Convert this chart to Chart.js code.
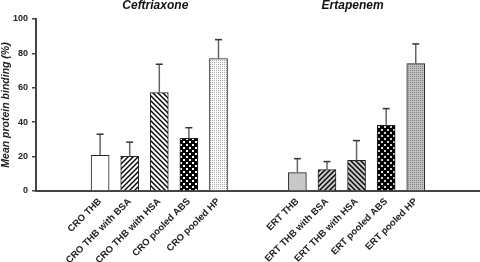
<!DOCTYPE html>
<html lang="en">
<head>
<meta charset="UTF-8">
<title>Mean protein binding</title>
<script src="https://cdn.jsdelivr.net/npm/chart.js@4"></script>
<style>
  html, body { margin: 0; padding: 0; background: #fff; }
  #wrap { width: 480px; height: 262px; position: relative; }
</style>
</head>
<body>
<div id="wrap"><canvas id="binding"></canvas></div>
<script>
// data
const groupTitles = ['Ceftriaxone', 'Ertapenem'];
const croLabels = ['CRO THB', 'CRO THB with BSA', 'CRO THB with HSA', 'CRO pooled ABS', 'CRO pooled HP'];
const ertLabels = ['ERT THB', 'ERT THB with BSA', 'ERT THB with HSA', 'ERT pooled ABS', 'ERT pooled HP'];
const croMean = [20.7, 20.1, 57.2, 30.6, 77.0];
const croSD   = [12.3, 8.3, 16.5, 6.2, 11.0];
const ertMean = [10.7, 12.4, 17.8, 38.2, 74.1];
const ertSD   = [8.1, 4.7, 11.5, 9.7, 11.4];
const yTicks  = [0, 20, 40, 60, 80, 100];

const FONT = 'Arial, "Liberation Sans", sans-serif';

// small fill patterns like the Prism bars
function tile(size, bg, paint) {
  const c = document.createElement('canvas');
  c.width = c.height = size;
  const g = c.getContext('2d');
  g.fillStyle = bg;
  g.fillRect(0, 0, size, size);
  if (paint) paint(g, size);
  return g.createPattern(c, 'repeat');
}
const hatch = (dir) => (g, s) => {
  g.strokeStyle = '#000';
  g.lineWidth = 1.4;
  g.beginPath();
  for (let o = -s; o <= s; o += s) {
    if (dir > 0) { g.moveTo(o - 1, s + 1); g.lineTo(o + s + 1, -1); }
    else { g.moveTo(o - 1, -1); g.lineTo(o + s + 1, s + 1); }
  }
  g.stroke();
};
const checker = (dot) => (g) => {
  g.fillStyle = dot;
  g.fillRect(0, 0, 2, 2);
  g.fillRect(3, 3, 2, 2);
};
const dots = (dot) => (g) => {
  g.fillStyle = dot;
  g.fillRect(0, 0, 1, 1);
  g.fillRect(2, 2, 1, 1);
  g.fillRect(0, 2, 1, 1);
  g.fillRect(2, 0, 1, 1);
};

const croFills = [
  '#ffffff',
  tile(5, '#ffffff', hatch(1)),
  tile(5, '#ffffff', hatch(-1)),
  tile(6, '#000000', checker('#ffffff')),
  tile(4, '#ffffff', dots('#a8a8a8'))
];
const ertFills = [
  '#c8c8c8',
  tile(5, '#c8c8c8', hatch(1)),
  tile(5, '#c8c8c8', hatch(-1)),
  tile(6, '#000000', checker('#d0d0d0')),
  tile(4, '#c4c4c4', dots('#7a7a7a'))
];

// lay the bars out on a fine category grid so the gap between groups can be set
const lead = 6, step = 3, gap = 8, tail = 6;
const groups = [
  { labels: croLabels, mean: croMean, sd: croSD, fills: croFills },
  { labels: ertLabels, mean: ertMean, sd: ertSD, fills: ertFills }
];
const labels = [], means = [], sds = [], fills = [], mids = [];
function pad(n) {
  for (let i = 0; i < n; i++) {
    labels.push(''); means.push(null); sds.push(null); fills.push('rgba(0,0,0,0)');
  }
}
pad(lead);
groups.forEach((g, gi) => {
  if (gi) pad(gap - 1);
  g.labels.forEach((l, j) => {
    if (j) pad(step - 1);
    if (j === 2) mids.push(labels.length);
    labels.push(l);
    means.push(g.mean[j]);
    sds.push(g.sd[j]);
    fills.push(g.fills[j]);
  });
});
pad(tail);

const errorBars = {
  id: 'errorBars',
  afterDatasetsDraw(chart) {
    const meta = chart.getDatasetMeta(0);
    const y = chart.scales.y;
    const c = chart.ctx;
    c.save();
    c.lineWidth = 1.5;
    meta.data.forEach((bar, i) => {
      if (means[i] == null) return;
      const top = y.getPixelForValue(means[i] + sds[i]);
      c.strokeStyle = '#666';
      c.beginPath();
      c.moveTo(bar.x, bar.y);
      c.lineTo(bar.x, top);
      c.stroke();
      c.strokeStyle = '#333';
      c.beginPath();
      c.moveTo(bar.x - 3.5, top);
      c.lineTo(bar.x + 3.5, top);
      c.stroke();
    });
    c.restore();
  }
};

const groupHeads = {
  id: 'groupHeads',
  afterDraw(chart) {
    const x = chart.scales.x;
    const c = chart.ctx;
    c.save();
    c.font = 'italic bold 12px ' + FONT;
    c.fillStyle = '#111';
    c.textAlign = 'center';
    c.textBaseline = 'middle';
    groupTitles.forEach((t, i) => c.fillText(t, x.getPixelForValue(mids[i]) - 4, 6));
    c.restore();
  }
};

new Chart(document.getElementById('binding'), {
  type: 'bar',
  data: {
    labels: labels,
    datasets: [{
      data: means,
      backgroundColor: fills,
      borderColor: '#222',
      borderWidth: 1,
      barThickness: 18
    }]
  },
  options: {
    responsive: true,
    maintainAspectRatio: false,
    animation: false,
    layout: { padding: { top: 19, right: 0, left: 0, bottom: 0 } },
    plugins: { legend: { display: false }, tooltip: { enabled: false } },
    scales: {
      x: {
        grid: { display: false },
        border: { color: '#444', width: 2 },
        ticks: {
          autoSkip: false, maxRotation: 45, minRotation: 45,
          font: { family: FONT, size: 9.5, weight: 'bold' }, color: '#222', padding: -3
        },
        afterFit: s => { s.height = 71; }
      },
      y: {
        min: yTicks[0],
        max: yTicks[yTicks.length - 1],
        ticks: {
          stepSize: yTicks[1] - yTicks[0],
          font: { family: FONT, size: 9, weight: 'bold' }, color: '#222', padding: 4
        },
        grid: { drawOnChartArea: false, tickLength: 4, color: '#444', lineWidth: 1.5 },
        border: { color: '#444', width: 2 },
        title: {
          display: true, text: 'Mean protein binding (%)', color: '#222', padding: 0,
          font: { family: FONT, size: 10.5, weight: 'bold', style: 'italic' }
        },
        afterFit: s => { s.width = 36; }
      }
    }
  },
  plugins: [errorBars, groupHeads]
});
</script>
</body>
</html>
